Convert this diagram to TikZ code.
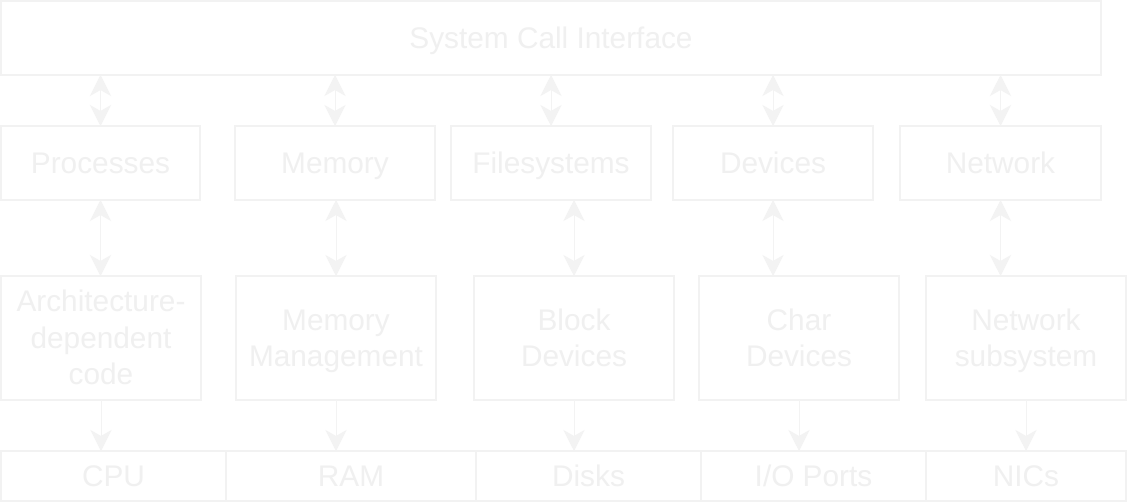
\documentclass[tikz,border=0pt]{standalone}
\usepackage{fontspec}
\setmainfont{Liberation Sans}
\usetikzlibrary{arrows.meta}
\definecolor{fg}{HTML}{F0F0F0}
\definecolor{bd}{HTML}{F2F2F2}
\definecolor{ar}{HTML}{F3F3F3}
\newcommand\mystrut{\rule[-7.95pt]{0pt}{36.5pt}}
\tikzset{
  box/.style={draw=bd, line width=1.2pt, fill=white, text=fg, inner sep=0pt, outer sep=0pt,
    align=center, font=\fontsize{29.8}{36.5}\selectfont},
  link/.style={draw=ar, line width=1pt, -{Stealth[length=21pt,width=21pt,inset=6pt]}},
  dlink/.style={draw=ar, line width=1pt, {Stealth[length=21pt,width=21pt,inset=6pt]}-{Stealth[length=21pt,width=21pt,inset=6pt]}}
}
\begin{document}
\begin{tikzpicture}[x=1pt,y=-1pt]
\useasboundingbox (0,0) rectangle (1128,503);
\fill[white] (0,0) rectangle (1128,503);
% row 1
\node[box, minimum width=1100pt, minimum height=74pt] (sci) at (551,38) {\mystrut System Call Interface};
% row 2
\node[box, minimum width=199pt, minimum height=74pt] (proc) at (100.5,163) {\mystrut Processes};
\node[box, minimum width=200pt, minimum height=74pt] (mem) at (335,163) {\mystrut Memory};
\node[box, minimum width=200pt, minimum height=74pt] (fs) at (551,163) {\mystrut Filesystems};
\node[box, minimum width=200pt, minimum height=74pt] (dev) at (773,163) {\mystrut Devices};
\node[box, minimum width=201pt, minimum height=74pt] (net) at (1000.5,163) {\mystrut Network};
% row 3
\node[box, minimum width=200pt, minimum height=124pt] (arch) at (101,338) {\mystrut Architecture-\\\mystrut dependent\\\mystrut code};
\node[box, minimum width=200pt, minimum height=124pt] (mm) at (336,338) {\mystrut Memory\\\mystrut Management};
\node[box, minimum width=200pt, minimum height=124pt] (blk) at (574,338) {\mystrut Block\\\mystrut Devices};
\node[box, minimum width=200pt, minimum height=124pt] (chr) at (799,338) {\mystrut Char\\\mystrut Devices};
\node[box, minimum width=200pt, minimum height=124pt] (nets) at (1026,338) {\mystrut Network\\\mystrut subsystem};
% row 4
\node[box, minimum width=225pt, minimum height=50pt] (cpu) at (113.5,476) {\mystrut CPU};
\node[box, minimum width=250pt, minimum height=50pt] (ram) at (351,476) {\mystrut RAM};
\node[box, minimum width=225pt, minimum height=50pt] (disks) at (588.5,476) {\mystrut Disks};
\node[box, minimum width=225pt, minimum height=50pt] (io) at (813.5,476) {\mystrut I/O Ports};
\node[box, minimum width=200pt, minimum height=50pt] (nics) at (1026,476) {\mystrut NICs};
% row1 - row2
\draw[dlink] (sci.south -| proc.north) -- (proc.north);
\draw[dlink] (sci.south -| mem.north) -- (mem.north);
\draw[dlink] (sci.south -| fs.north) -- (fs.north);
\draw[dlink] (sci.south -| dev.north) -- (dev.north);
\draw[dlink] (sci.south -| net.north) -- (net.north);
% row2 - row3
\draw[dlink] (proc.south) -- (proc.south |- arch.north);
\draw[dlink] (mem.south -| mm.north) -- (mm.north);
\draw[dlink] (fs.south -| blk.north) -- (blk.north);
\draw[dlink] (dev.south) -- (dev.south |- chr.north);
\draw[dlink] (net.south) -- (net.south |- nets.north);
% row3 - row4
\draw[link] (arch.south) -- (arch.south |- cpu.north);
\draw[link] (mm.south) -- (mm.south |- ram.north);
\draw[link] (blk.south) -- (blk.south |- disks.north);
\draw[link] (chr.south) -- (chr.south |- io.north);
\draw[link] (nets.south) -- (nets.south |- nics.north);
\end{tikzpicture}
\end{document}
